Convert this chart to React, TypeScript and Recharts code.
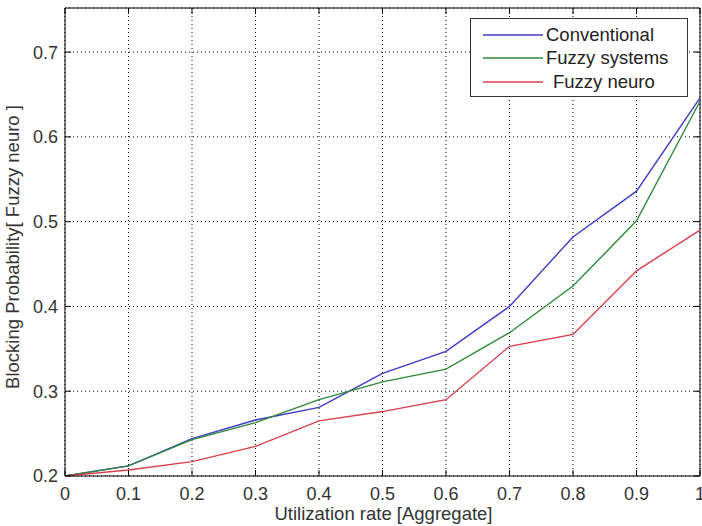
import {
  LineChart,
  Line,
  XAxis,
  YAxis,
  CartesianGrid,
  Legend,
  ReferenceLine,
  Label,
} from "recharts";

const utilization = [0, 0.1, 0.2, 0.3, 0.4, 0.5, 0.6, 0.7, 0.8, 0.9, 1];
const conventional = [0.2, 0.212, 0.244, 0.266, 0.281, 0.321, 0.347, 0.4, 0.482, 0.536, 0.646];
const fuzzySystems = [0.2, 0.212, 0.243, 0.263, 0.29, 0.311, 0.326, 0.369, 0.424, 0.501, 0.642];
const fuzzyNeuro = [0.2, 0.207, 0.217, 0.235, 0.265, 0.276, 0.29, 0.353, 0.367, 0.442, 0.49];

const xTicks = [0, 0.1, 0.2, 0.3, 0.4, 0.5, 0.6, 0.7, 0.8, 0.9, 1];
const yTicks = [0.2, 0.3, 0.4, 0.5, 0.6, 0.7];

const seriesInfo = [
  { key: "conventional", name: "Conventional", color: "#3d3dc6" },
  { key: "fuzzySystems", name: "Fuzzy systems", color: "#2e8a3a" },
  { key: "fuzzyNeuro", name: "Fuzzy neuro", color: "#d6404c" },
];

const data = utilization.map((u, i) => ({
  u,
  conventional: conventional[i],
  fuzzySystems: fuzzySystems[i],
  fuzzyNeuro: fuzzyNeuro[i],
}));

const W = 702;
const H = 526;
const TOP = 8;
const RIGHT = 2;
const Y_AXIS_W = 65;
const X_AXIS_H = 50;
const Y_MAX = 0.752;
const FONT = "'Liberation Sans', Arial, sans-serif";
const TICK_LEN = 6;

const fmt = (v: number) => (v === 0 || v === 1 ? String(v) : v.toFixed(1));

const XTick = (props: any) => {
  const { x, y, payload } = props;
  const bottom = y - 8;
  return (
    <g>
      <line x1={x} x2={x} y1={bottom} y2={bottom - TICK_LEN} stroke="#000" />
      <line x1={x} x2={x} y1={TOP} y2={TOP + TICK_LEN} stroke="#000" />
      <text
        x={x}
        y={y}
        dy={15.5}
        textAnchor="middle"
        fontSize={18}
        fontFamily={FONT}
        fill="#333"
      >
        {fmt(payload.value)}
      </text>
    </g>
  );
};

const YTick = (props: any) => {
  const { x, y, payload } = props;
  const left = x + 7;
  const right = W - RIGHT;
  return (
    <g>
      <line x1={left} x2={left + TICK_LEN} y1={y} y2={y} stroke="#000" />
      <line x1={right} x2={right - TICK_LEN} y1={y} y2={y} stroke="#000" />
      <text
        x={x}
        y={y}
        dy="0.36em"
        textAnchor="end"
        fontSize={18}
        fontFamily={FONT}
        fill="#333"
      >
        {fmt(payload.value)}
      </text>
    </g>
  );
};

// axis titles: baseline placed from the axis viewBox
const XTitle = ({ viewBox }: any) => (
  <text
    x={viewBox.x + viewBox.width / 2 + 1}
    y={viewBox.y + viewBox.height - 6}
    textAnchor="middle"
    fontSize={18.5}
    fontFamily={FONT}
    fill="#333"
  >
    Utilization rate [Aggregate]
  </text>
);

const YTitle = ({ viewBox }: any) => {
  const x = viewBox.x + 19;
  const y = viewBox.y + viewBox.height / 2 + 5;
  return (
    <text
      x={x}
      y={y}
      transform={`rotate(-90 ${x} ${y})`}
      textAnchor="middle"
      fontSize={18.5}
      fontFamily={FONT}
      fill="#333"
    >
      Blocking Probability[ Fuzzy neuro ]
    </text>
  );
};

const LegendBox = () => (
  <div
    style={{
      width: 218,
      height: 79,
      boxSizing: "border-box",
      border: "1px solid #333",
      background: "#fff",
      fontFamily: FONT,
      fontSize: 18.5,
      color: "#222",
      paddingTop: 4,
    }}
  >
    {seriesInfo.map((s, i) => (
      <div
        key={s.key}
        style={{ display: "flex", alignItems: "center", height: 23.5 }}
      >
        <svg width={74} height={10}>
          <line x1={12} x2={72} y1={5} y2={5} stroke={s.color} strokeWidth={1.5} />
        </svg>
        <span style={{ marginLeft: i === 2 ? 8 : 1, whiteSpace: "nowrap" }}>
          {s.name}
        </span>
      </div>
    ))}
  </div>
);

export default function App() {
  return (
    <div style={{ position: "absolute", left: 0, top: 0, background: "#fff" }}>
      <LineChart
        width={W}
        height={H}
        data={data}
        margin={{ top: TOP, right: RIGHT, bottom: 0, left: 0 }}
      >
        <CartesianGrid stroke="#000" strokeDasharray="1 3" />
        <XAxis
          dataKey="u"
          type="number"
          domain={[0, 1]}
          ticks={xTicks}
          height={X_AXIS_H}
          tickSize={0}
          tickMargin={8}
          tickLine={false}
          axisLine={{ stroke: "#000" }}
          tick={<XTick />}
          interval={0}
        >
          <Label content={<XTitle />} />
        </XAxis>
        <YAxis
          type="number"
          domain={[0.2, Y_MAX]}
          ticks={yTicks}
          width={Y_AXIS_W}
          tickSize={0}
          tickMargin={7}
          tickLine={false}
          axisLine={{ stroke: "#000" }}
          tick={<YTick />}
          interval={0}
          allowDataOverflow
        >
          <Label content={<YTitle />} />
        </YAxis>
        <ReferenceLine y={Y_MAX} stroke="#000" />
        <ReferenceLine x={1} stroke="#000" />
        <Legend
          layout="vertical"
          align="center"
          verticalAlign="middle"
          wrapperStyle={{ left: 470, top: 18, width: 218, height: 79 }}
          content={<LegendBox />}
        />
        {seriesInfo.map((s) => (
          <Line
            key={s.key}
            dataKey={s.key}
            name={s.name}
            stroke={s.color}
            strokeWidth={1.4}
            dot={false}
            type="linear"
            isAnimationActive={false}
          />
        ))}
      </LineChart>
    </div>
  );
}
